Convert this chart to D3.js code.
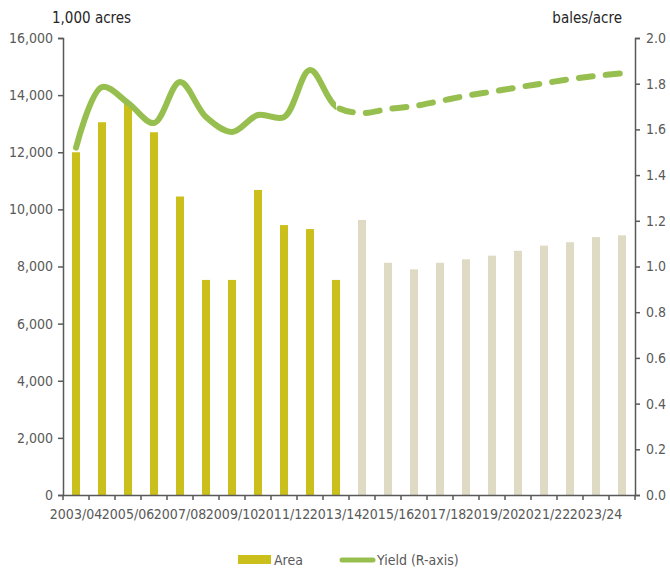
<!DOCTYPE html>
<html>
<head>
<meta charset="utf-8">
<script src="https://cdn.jsdelivr.net/npm/d3@7"></script>
<style>
  body { margin: 0; background: #fff; }
  svg text { font-family: "Liberation Sans Narrow", "DejaVu Sans Condensed", "Liberation Sans", sans-serif; fill: #595959; }
</style>
</head>
<body>
<script>
// marketing years, 2003/04 .. 2024/25
var years = ["2003/04","2004/05","2005/06","2006/07","2007/08","2008/09","2009/10","2010/11",
  "2011/12","2012/13","2013/14","2014/15","2015/16","2016/17","2017/18","2018/19","2019/20",
  "2020/21","2021/22","2022/23","2023/24","2024/25"];
// harvested area, 1,000 acres (first 11 actual, rest projected)
var area = [12000, 13050, 13750, 12700, 10450, 7530, 7530, 10680, 9450, 9310, 7530,
  9630, 8130, 7900, 8130, 8250, 8380, 8550, 8730, 8850, 9030, 9090];
// yield, bales/acre
var yieldVals = [1.52, 1.785, 1.716, 1.628, 1.807, 1.654, 1.589, 1.663, 1.654, 1.86, 1.70,
  1.672, 1.689, 1.702, 1.724, 1.747, 1.765, 1.784, 1.802, 1.82, 1.834, 1.846];
var lastActual = 10; // 2013/14
var leftTicks = [0, 2000, 4000, 6000, 8000, 10000, 12000, 14000, 16000];
var rightTicks = [0, 0.2, 0.4, 0.6, 0.8, 1.0, 1.2, 1.4, 1.6, 1.8, 2.0];
var labelYears = years.filter(function(d, i) { return i % 2 == 0; });

var W = 670, H = 569;
var margin = {top: 38, right: 35, bottom: 74, left: 63};
var width = W - margin.left - margin.right;
var height = H - margin.top - margin.bottom;

var svg = d3.select("body").append("svg")
    .attr("width", W).attr("height", H);
var g = svg.append("g")
    .attr("transform", "translate(" + margin.left + "," + margin.top + ")");

var x = d3.scaleBand().domain(years).range([0, width]);
var yL = d3.scaleLinear().domain([0, 16000]).range([height, 0]);
var yR = d3.scaleLinear().domain([0, 2]).range([height, 0]);

// bars
g.selectAll("rect.bar").data(area).enter().append("rect")
    .attr("class", "bar")
    .attr("x", function(d, i) { return x(years[i]) + x.bandwidth() / 2 - 4; })
    .attr("width", 8)
    .attr("y", function(d) { return yL(d); })
    .attr("height", function(d) { return height - yL(d); })
    .attr("fill", function(d, i) { return i <= lastActual ? "#CBBF1B" : "#DFDAC4"; });

// yield line: solid for actual, dashed for projection
var pts = yieldVals.map(function(v, i) { return {x: x(years[i]) + x.bandwidth() / 2, y: yR(v)}; });
var line = d3.line()
    .x(function(d) { return d.x; })
    .y(function(d) { return d.y; })
    .curve(d3.curveCatmullRom.alpha(0.5));
var splitX = pts[lastActual].x;

var defs = svg.append("defs");
defs.append("clipPath").attr("id", "clipA").append("rect")
    .attr("x", -20).attr("y", -40).attr("width", splitX + 20).attr("height", height + 80);
defs.append("clipPath").attr("id", "clipB").append("rect")
    .attr("x", splitX).attr("y", -40).attr("width", width - splitX + 20).attr("height", height + 80);

g.append("path").datum(pts.slice(0, lastActual + 2))
    .attr("d", line)
    .attr("clip-path", "url(#clipA)")
    .attr("fill", "none").attr("stroke", "#97BF4F")
    .attr("stroke-width", 6).attr("stroke-linecap", "round");

g.append("path").datum(pts.slice(lastActual - 1))
    .attr("d", line)
    .attr("clip-path", "url(#clipB)")
    .attr("fill", "none").attr("stroke", "#97BF4F")
    .attr("stroke-width", 6).attr("stroke-linecap", "round")
    .attr("stroke-dasharray", "14,13")
    .attr("stroke-dashoffset", -22);

// axes
var axisColor = "#595959";
var axL = g.append("g")
    .call(d3.axisLeft(yL).tickValues(leftTicks).tickSize(5).tickSizeOuter(5).tickFormat(d3.format(",")));
var axR = g.append("g").attr("transform", "translate(" + width + ",0)")
    .call(d3.axisRight(yR).tickValues(rightTicks).tickSize(5).tickSizeOuter(5).tickFormat(d3.format(".1f")));
var axB = g.append("g").attr("transform", "translate(0," + height + ")")
    .call(d3.axisBottom(x).tickValues(labelYears).tickSize(0).tickSizeOuter(0));

[axL, axR, axB].forEach(function(a) {
  a.selectAll("path.domain").attr("stroke", axisColor).attr("stroke-width", 1.5);
  a.selectAll(".tick line").attr("stroke", axisColor).attr("stroke-width", 1.5);
  a.selectAll("text").attr("fill", axisColor).style("font-size", "14px");
});
axL.selectAll("text").attr("x", -10);
axR.selectAll("text").attr("x", 11);
axB.selectAll("text").attr("y", 14).style("font-size", "14px");

// category boundary ticks on x axis
g.append("g").selectAll("line").data(d3.range(years.length + 1)).enter().append("line")
    .attr("x1", function(i) { return i * x.step(); })
    .attr("x2", function(i) { return i * x.step(); })
    .attr("y1", height).attr("y2", height + 5)
    .attr("stroke", axisColor).attr("stroke-width", 1.5);

// axis titles
svg.append("text").attr("x", 52).attr("y", 23)
    .style("font-size", "15px").style("fill", "#262626")
    .text("1,000 acres");
svg.append("text").attr("x", 622).attr("y", 23).attr("text-anchor", "end")
    .style("font-size", "15px").style("fill", "#262626")
    .text("bales/acre");

// legend
var leg = svg.append("g");
leg.append("rect").attr("x", 238).attr("y", 555).attr("width", 33).attr("height", 9).attr("fill", "#CBBF1B");
leg.append("text").attr("x", 274).attr("y", 565).style("font-size", "14px").text("Area");
leg.append("line").attr("x1", 342).attr("x2", 373).attr("y1", 560).attr("y2", 560)
    .attr("stroke", "#97BF4F").attr("stroke-width", 5).attr("stroke-linecap", "round");
leg.append("text").attr("x", 377).attr("y", 565).style("font-size", "14px").text("Yield (R-axis)");
</script>
</body>
</html>
